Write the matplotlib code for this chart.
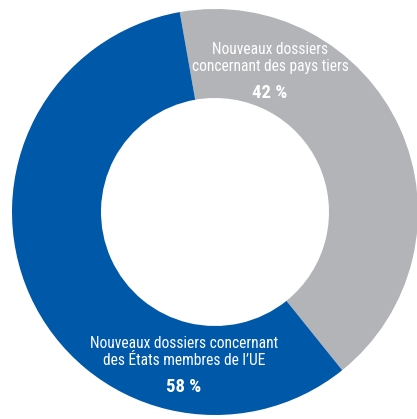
import matplotlib
matplotlib.use("Agg")
import matplotlib.pyplot as plt

labels = ["Nouveaux dossiers\nconcernant des pays tiers",
          "Nouveaux dossiers concernant\ndes États membres de l\u2019UE"]
values = [42, 58]
pct_labels = ["42 %", "58 %"]
colors = ["#B3B4B8", "#0058A8"]

W, H = 417, 419
fig = plt.figure(figsize=(W / 100, H / 100), dpi=100)
ax = fig.add_axes([0, 0, 1, 1])
cx, cy, R = 215, H - 212, 203
wedges, _ = ax.pie(values, colors=colors, startangle=100, counterclock=False,
                   radius=R, center=(cx, cy),
                   wedgeprops=dict(width=R - 114, linewidth=0))
ax.set_xlim(0, W)
ax.set_ylim(0, H)
ax.set_aspect("equal", adjustable="box")
ax.axis("off")

fam = ["Roboto Condensed", "Liberation Sans Narrow", "Roboto", "DejaVu Sans"]
# label positions (pixels from top-left)
pos = [(270, 58, 93), (184, 352, 387)]
for lab, pl, (x, ly, py) in zip(labels, pct_labels, pos):
    ax.text(x, H - ly, lab, ha="center", va="center", color="white",
            fontsize=11.2, family=fam, linespacing=1.2, clip_on=False,
            zorder=5)
    ax.text(x, H - py, pl, ha="center", va="center", color="white",
            fontsize=13.5, family=fam, fontweight="bold", clip_on=False,
            zorder=5)

fig.savefig("out.png", dpi=100)
